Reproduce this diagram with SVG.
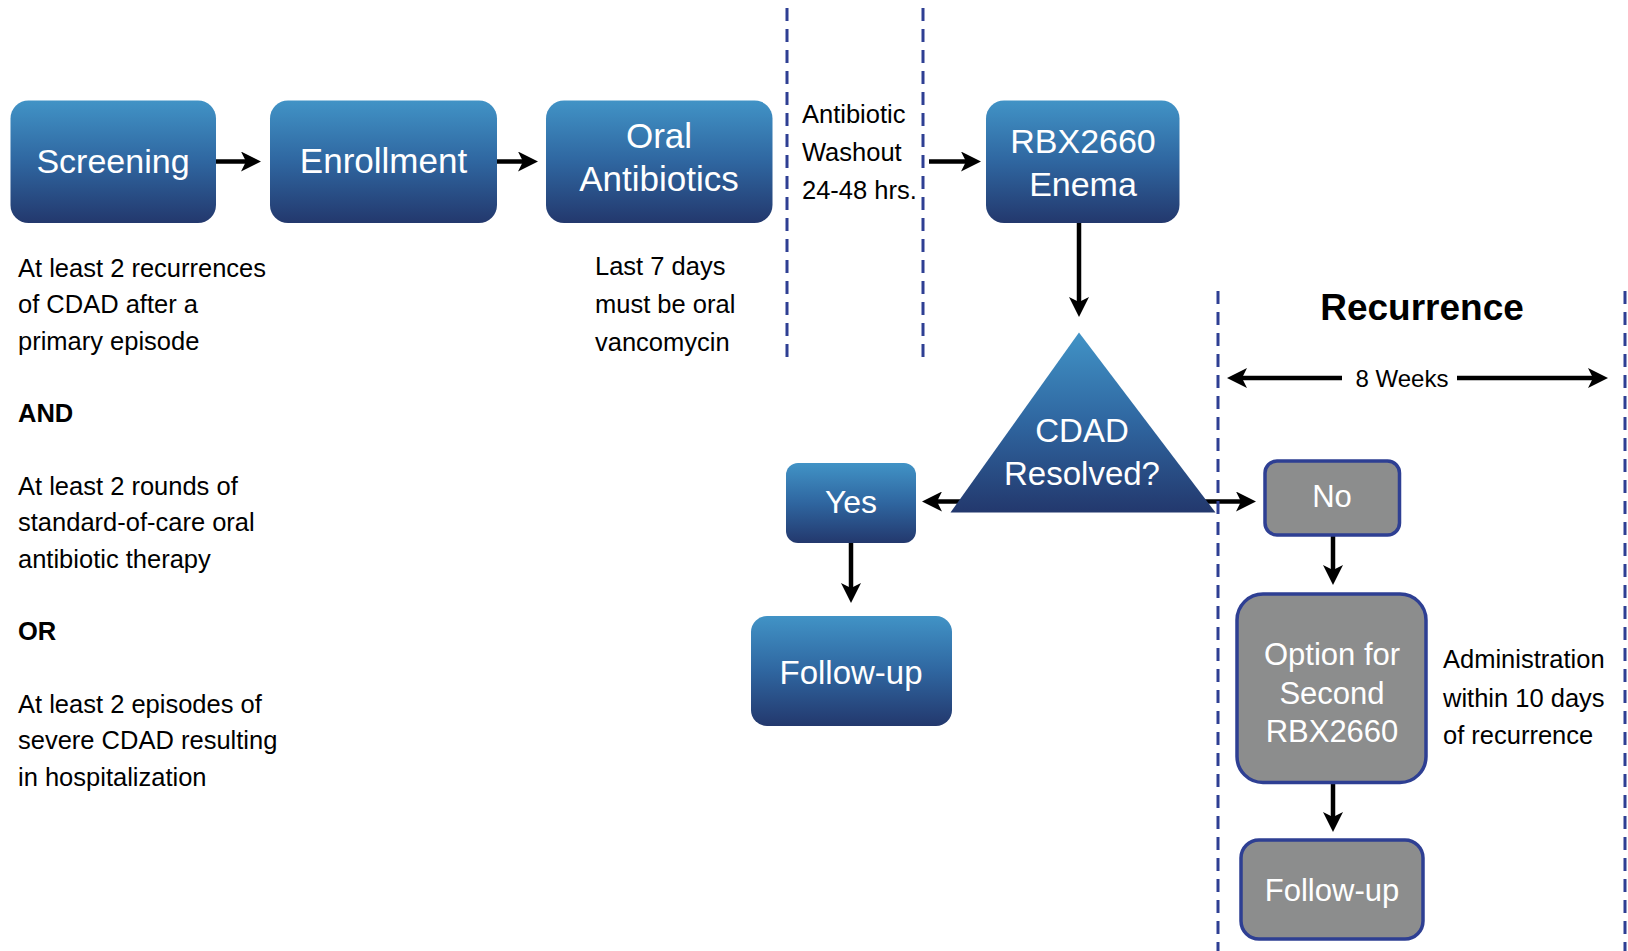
<svg xmlns="http://www.w3.org/2000/svg" width="1628" height="951" viewBox="0 0 1628 951">
<style>
.box{fill:url(#blue)}
.gbox{fill:#8c8d8d;stroke:#2e3f93;stroke-width:3.5}
.bt{font-family:"Liberation Sans",Arial,sans-serif;fill:#fff;text-anchor:middle}
.t{font-family:"Liberation Sans",Arial,sans-serif;fill:#000;font-size:25.5px}
.b{font-weight:bold}
.dash{stroke:#2e3f93;stroke-width:3;stroke-dasharray:13 8;fill:none}
.arr{stroke:#000;stroke-width:4.5;fill:none;marker-end:url(#ah)}
</style>
<defs>
<linearGradient id="blue" x1="0" y1="0" x2="0" y2="1">
<stop offset="0" stop-color="#4193c6"/>
<stop offset="0.5" stop-color="#2f66a0"/>
<stop offset="1" stop-color="#23386d"/>
</linearGradient>
<marker id="ah" markerUnits="userSpaceOnUse" viewBox="0 0 20 20" markerWidth="20" markerHeight="20" refX="10" refY="10" orient="auto">
<path d="M0,0 L20,10 L0,20 L5,10 Z" fill="#000"/>
</marker>
</defs>
<rect width="1628" height="951" fill="#fff"/>

<g id="connectors">
<path class="arr" d="M216,161.5 H251"/>
<path class="arr" d="M497,161.5 H528"/>
<path class="arr" d="M929,161.5 H971"/>
<path class="arr" d="M1079,223 V307"/>
<path class="arr" d="M960,501.5 H932"/>
<path class="arr" d="M1200,501.5 H1246"/>
<path class="arr" d="M851,543 V593"/>
<path class="arr" d="M1333,535 V575"/>
<path class="arr" d="M1333,783 V822"/>
<path class="arr" d="M1342,378 H1237"/>
<path class="arr" d="M1457,378 H1598"/>
</g>

<g id="screening">
<rect class="box" x="10.5" y="100.5" width="205.5" height="122.5" rx="18"/>
<text class="bt" x="113" y="173" font-size="34">Screening</text>
</g>
<g id="enrollment">
<rect class="box" x="270" y="100.5" width="227" height="122.5" rx="18"/>
<text class="bt" x="383.5" y="173" font-size="35">Enrollment</text>
</g>
<g id="oral-antibiotics">
<rect class="box" x="546" y="100.5" width="226.5" height="122.5" rx="18"/>
<text class="bt" x="659" y="148" font-size="35">Oral</text>
<text class="bt" x="659" y="191" font-size="35">Antibiotics</text>
</g>
<g id="washout">
<text class="t" x="802" y="123">Antibiotic</text>
<text class="t" x="802" y="161">Washout</text>
<text class="t" x="802" y="199">24-48 hrs.</text>
</g>
<g id="rbx-enema">
<rect class="box" x="986" y="100.5" width="193.5" height="122.5" rx="18"/>
<text class="bt" x="1083" y="153" font-size="34">RBX2660</text>
<text class="bt" x="1083" y="196" font-size="34">Enema</text>
</g>
<g id="decision">
<path d="M1079,332.5 L1215.5,512.5 L950.5,512.5 Z" fill="url(#blue)"/>
<text class="bt" x="1082" y="442" font-size="33">CDAD</text>
<text class="bt" x="1082" y="485" font-size="33">Resolved?</text>
</g>
<g id="yes">
<rect class="box" x="786" y="463" width="130" height="80" rx="12"/>
<text class="bt" x="851" y="513" font-size="32">Yes</text>
</g>
<g id="follow-up-1">
<rect class="box" x="751" y="616" width="201" height="110" rx="16"/>
<text class="bt" x="851" y="684" font-size="33">Follow-up</text>
</g>
<g id="no">
<rect class="gbox" x="1265" y="461" width="134.5" height="74" rx="12"/>
<text class="bt" x="1332" y="507" font-size="31">No</text>
</g>
<g id="option">
<rect class="gbox" x="1237" y="594" width="189" height="188.5" rx="26"/>
<text class="bt" x="1332" y="665" font-size="31">Option for</text>
<text class="bt" x="1332" y="704" font-size="31">Second</text>
<text class="bt" x="1332" y="742" font-size="31">RBX2660</text>
</g>
<g id="follow-up-2">
<rect class="gbox" x="1241" y="840" width="182" height="99" rx="18"/>
<text class="bt" x="1332" y="901" font-size="31">Follow-up</text>
</g>

<g id="criteria">
<text class="t" x="18" y="277">At least 2 recurrences</text>
<text class="t" x="18" y="313">of CDAD after a</text>
<text class="t" x="18" y="350">primary episode</text>
<text class="t b" x="18" y="422">AND</text>
<text class="t" x="18" y="495">At least 2 rounds of</text>
<text class="t" x="18" y="531">standard-of-care oral</text>
<text class="t" x="18" y="568">antibiotic therapy</text>
<text class="t b" x="18" y="640">OR</text>
<text class="t" x="18" y="713">At least 2 episodes of</text>
<text class="t" x="18" y="749">severe CDAD resulting</text>
<text class="t" x="18" y="786">in hospitalization</text>
</g>
<g id="oral-note">
<text class="t" x="595" y="275">Last 7 days</text>
<text class="t" x="595" y="313">must be oral</text>
<text class="t" x="595" y="351">vancomycin</text>
</g>
<g id="recurrence">
<text class="t b" x="1422" y="320" text-anchor="middle" style="font-size:37px">Recurrence</text>
<text class="t" x="1402" y="387" text-anchor="middle" style="font-size:24px">8 Weeks</text>
</g>
<g id="admin-note">
<text class="t" x="1443" y="668">Administration</text>
<text class="t" x="1443" y="707">within 10 days</text>
<text class="t" x="1443" y="744">of recurrence</text>
</g>

<g id="dividers">
<line class="dash" x1="787" y1="8" x2="787" y2="358"/>
<line class="dash" x1="923" y1="8" x2="923" y2="358"/>
<line class="dash" x1="1218" y1="291" x2="1218" y2="951"/>
<line class="dash" x1="1625" y1="291" x2="1625" y2="951"/>
</g>
</svg>
